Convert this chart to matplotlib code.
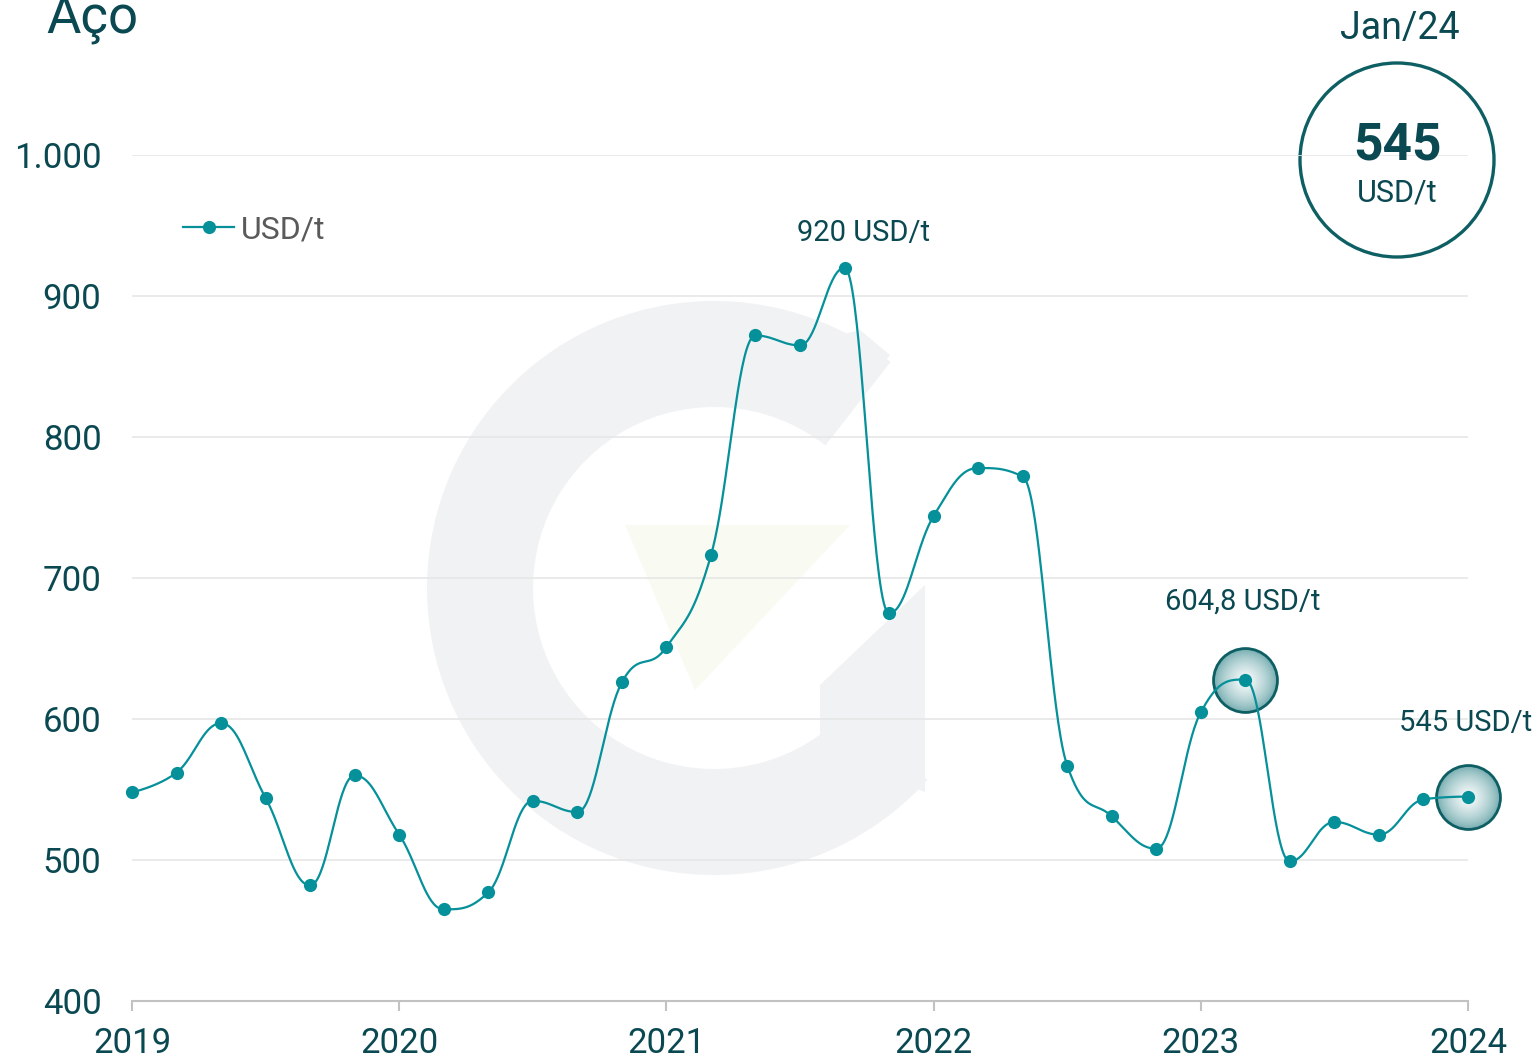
import numpy as np
import matplotlib
matplotlib.use("Agg")
import matplotlib.pyplot as plt
from matplotlib.patches import Wedge, Polygon, Circle
from matplotlib.lines import Line2D
from matplotlib.ticker import FuncFormatter

plt.rcParams['font.family'] = ['Roboto', 'DejaVu Sans']

# Preço do aço (USD/t), leitura bimestral
meses = ['2019-01', '2019-03', '2019-05', '2019-07', '2019-09', '2019-11',
         '2020-01', '2020-03', '2020-05', '2020-07', '2020-09', '2020-11',
         '2021-01', '2021-03', '2021-05', '2021-07', '2021-09', '2021-11',
         '2022-01', '2022-03', '2022-05', '2022-07', '2022-09', '2022-11',
         '2023-01', '2023-03', '2023-05', '2023-07', '2023-09', '2023-11',
         '2024-01']
precos = [548, 562, 597, 544, 482, 560,
          518, 465, 477, 542, 534, 626,
          651, 716, 872, 865, 920, 675,
          744, 778, 772, 567, 531, 508,
          604.8, 628, 499, 527, 518, 543,
          545]
anos = [2019, 2020, 2021, 2022, 2023, 2024]
destaques = ['2023-03', '2024-01']
rotulos = {'2021-09': ('920 USD/t', 14, 19),
           '2023-03': ('604,8 USD/t', -2, 50),
           '2024-01': ('545 USD/t', -2, 47)}

TEAL = '#05909a'
DARK = '#0b4952'
RING = '#0e5f63'

x = np.array([int(m[:4]) + (int(m[5:]) - 1) / 12 for m in meses])
y = np.array(precos, dtype=float)


# curva suave (bezier estilo "spline")
def suaviza(xs, ys, n=40):
    k = len(xs)
    lc = np.zeros((k, 2))
    rc = np.zeros((k, 2))
    for i in range(k):
        px, py = xs[i], ys[i]
        if 0 < i < k - 1:
            lx = (1.5 * px + xs[i - 1]) / 2.5
            ly = (1.5 * py + ys[i - 1]) / 2.5
            rx = (1.5 * px + xs[i + 1]) / 2.5
            ry = (1.5 * py + ys[i + 1]) / 2.5
            corr = ((ry - ly) * (rx - px)) / (rx - lx) + py - ry
            ly += corr
            ry += corr
            if ly > ys[i - 1] and ly > py:
                ly = max(ys[i - 1], py); ry = 2 * py - ly
            elif ly < ys[i - 1] and ly < py:
                ly = min(ys[i - 1], py); ry = 2 * py - ly
            if ry > ys[i + 1] and ry > py:
                ry = max(ys[i + 1], py); ly = 2 * py - ry
            elif ry < ys[i + 1] and ry < py:
                ry = min(ys[i + 1], py); ly = 2 * py - ry
        else:
            lx, ly, rx, ry = px, py, px, py
        lc[i] = lx, ly
        rc[i] = rx, ry
    t = np.linspace(0, 1, n)[:, None]
    out = []
    for i in range(k - 1):
        p0 = np.array([xs[i], ys[i]])
        p3 = np.array([xs[i + 1], ys[i + 1]])
        p1, p2 = rc[i], lc[i + 1]
        seg = ((1 - t) ** 3) * p0 + 3 * ((1 - t) ** 2) * t * p1 + 3 * (1 - t) * t ** 2 * p2 + t ** 3 * p3
        out.append(seg if i == 0 else seg[1:])
    out = np.vstack(out)
    return out[:, 0], out[:, 1]


W, H = 1537, 1061
fig = plt.figure(figsize=(W / 100, H / 100), dpi=100)

# marca d'agua
bg = fig.add_axes([0, 0, 1, 1], zorder=0)
bg.set_xlim(0, W)
bg.set_ylim(0, H)
bg.axis('off')
cx, cy = 714, H - 588
wm = '#f1f2f4'
bg.add_patch(Wedge((cx, cy), 287, 52, 318, width=106, color=wm, lw=0))
bg.add_patch(Polygon([(835, H - 420), (890, H - 355), (860, H - 330), (800, H - 345)],
                     closed=True, color=wm, lw=0))
bg.add_patch(Polygon([(820, H - 685), (925, H - 585), (925, H - 792), (820, H - 752)],
                     closed=True, color=wm, lw=0))
bg.add_patch(Polygon([(625, H - 525), (850, H - 525), (695, H - 690)],
                     closed=True, color='#f9faf1', lw=0))

ax = fig.add_axes([132 / W, 1 - 1001 / H, 1336 / W, (1001 - 155) / H], zorder=1)
ax.set_facecolor('none')
ax.set_xlim(2019, 2024)
ax.set_ylim(400, 1000)

for v in range(500, 1001, 100):
    ax.axhline(v, color='#e6e6e6', lw=1.2, zorder=0)

# destaques com brilho radial
rim = np.array(matplotlib.colors.to_rgb('#6aa6aa'))
for m in destaques:
    i = meses.index(m)
    steps = 26
    for j in range(steps):
        f = j / (steps - 1)
        c = rim + (np.ones(3) - rim) * (f ** 0.7)
        ax.plot(x[i], y[i], 'o', ms=46 * (1 - f) + 1, mfc=c, mec='none', zorder=2, clip_on=False)
    ax.plot(x[i], y[i], 'o', ms=46, mfc='none', mec=RING, mew=2, zorder=2.5, clip_on=False)

sx, sy = suaviza(x, y)
ax.plot(sx, sy, color=TEAL, lw=1.6, zorder=3, clip_on=False)
ax.plot(x, y, 'o', color=TEAL, ms=9.5, mec='none', zorder=4, clip_on=False)

for m, (txt, dx, dy) in rotulos.items():
    i = meses.index(m)
    ax.annotate(txt, (x[i], y[i]), xytext=(dx, dy), textcoords='offset points',
                ha='center', va='baseline', fontsize=21, color=DARK)

for s in ['top', 'right', 'left']:
    ax.spines[s].set_visible(False)
ax.spines['bottom'].set_color('#c2c2c2')
ax.spines['bottom'].set_linewidth(1.5)

ax.set_xticks(anos)
ax.set_xticklabels([str(a) for a in anos])
ax.set_yticks(range(400, 1001, 100))
ax.yaxis.set_major_formatter(FuncFormatter(lambda v, _: f"{v:,.0f}".replace(',', '.')))
ax.tick_params(axis='y', length=0, pad=22, labelsize=25, labelcolor=DARK)
ax.tick_params(axis='x', length=7, width=1.5, color='#c2c2c2', pad=12, labelsize=25, labelcolor=DARK)

leg_handle = Line2D([], [], color=TEAL, lw=1.6, marker='o', ms=9.5, mec='none')
ax.legend([leg_handle], ['USD/t'], loc='center left', bbox_to_anchor=(183 / W, 1 - 230 / H),
          bbox_transform=fig.transFigure, frameon=False, fontsize=23, labelcolor='#5a5a5a',
          handlelength=1.6, handletextpad=0.2, borderpad=0, borderaxespad=0)

# titulo (cortado no topo, como no original) e destaque do ultimo valor
fig.text(46 / W, 1 - 33 / H, 'Aço', fontsize=38, color=DARK, va='baseline')
ult = meses[-1]
mes_nome = {'01': 'Jan'}[ult[5:]]
fig.text(1400 / W, 1 - 39 / H, f"{mes_nome}/{ult[2:4]}", fontsize=27, color=DARK,
         ha='center', va='baseline')
bg.add_patch(Circle((1397, H - 160), 97, fill=False, ec=RING, lw=2.4))
fig.text(1397 / W, 1 - 160 / H, f"{precos[-1]:.0f}", fontsize=37, weight='bold',
         color=DARK, ha='center', va='baseline')
fig.text(1397 / W, 1 - 201 / H, 'USD/t', fontsize=22, color=DARK, ha='center', va='baseline')

fig.savefig('out.png', dpi=100)
